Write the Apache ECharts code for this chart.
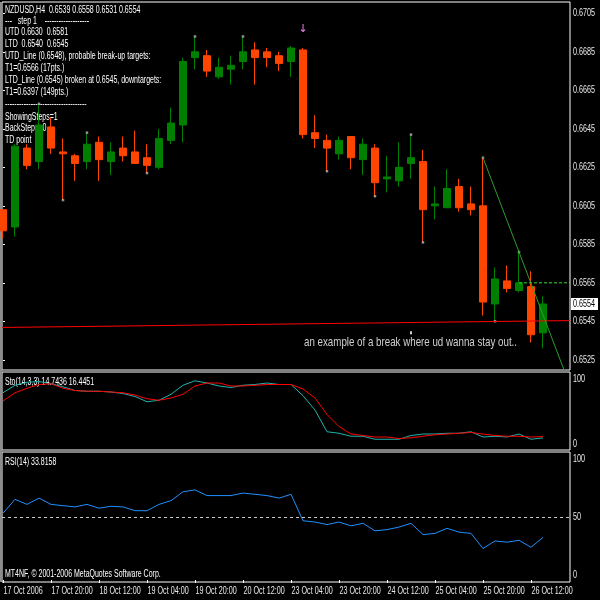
<!DOCTYPE html>
<html><head><meta charset="utf-8">
<script src="https://cdn.jsdelivr.net/npm/echarts@6/dist/echarts.min.js"></script>
<style>html,body{margin:0;padding:0;background:#000}#c{width:600px;height:600px}</style>
</head><body><div id="c"></div>
<script>
// ---- data (NZDUSD H4) ----
const timeLabels = ['17 Oct 2006','17 Oct 20:00','18 Oct 12:00','19 Oct 04:00','19 Oct 20:00','20 Oct 12:00','23 Oct 04:00','23 Oct 20:00','24 Oct 12:00','25 Oct 04:00','25 Oct 20:00','26 Oct 12:00'];
const timeLabelIdx = [0,4,8,12,16,20,24,28,32,36,40,44];
const priceTicks = [0.6525,0.6545,0.6565,0.6585,0.6605,0.6625,0.6645,0.6665,0.6685,0.6705];
const stoTicks = [0,100];
const rsiTicks = [0,50,100];
const open  = [0.6603,0.6594,0.6635,0.6628,0.6646,0.6633,0.6631,0.6628,0.6638,0.6628,0.6635,0.6633,0.6630,0.6625,0.6639,0.6647,0.6682,0.6683,0.6672,0.6676,0.6680,0.6686,0.6685,0.6683,0.6680,0.6686,0.6643,0.6639,0.6632,0.6641,0.6629,0.6635,0.6619,0.6618,0.6627,0.6628,0.6605,0.6604,0.6615,0.6606,0.6605,0.6554,0.6566,0.6561,0.6563,0.6539];
const close = [0.6592,0.6636,0.6626,0.6647,0.6635,0.6632,0.6627,0.6637,0.6629,0.6633,0.6631,0.6627,0.6626,0.6640,0.6648,0.6680,0.6685,0.6675,0.6677,0.6678,0.6685,0.6682,0.6682,0.6679,0.6687,0.6642,0.6640,0.6635,0.6639,0.6630,0.6637,0.6617,0.6620,0.6625,0.6630,0.6603,0.6606,0.6614,0.6604,0.6603,0.6555,0.6567,0.6562,0.6565,0.6538,0.6554];
const low   = [0.6588,0.6589,0.6624,0.6624,0.6632,0.6608,0.6618,0.6624,0.6618,0.6621,0.6628,0.6627,0.6622,0.6624,0.6637,0.6638,0.6676,0.6672,0.6671,0.6668,0.6676,0.6668,0.6677,0.6675,0.6672,0.6640,0.6635,0.6623,0.6629,0.6624,0.6621,0.6610,0.6612,0.6615,0.6619,0.6586,0.6598,0.6604,0.6602,0.6600,0.6548,0.6545,0.6560,0.6560,0.6534,0.6531];
const high  = [0.6603,0.6637,0.6637,0.6658,0.6651,0.6640,0.6632,0.6643,0.6641,0.6638,0.6641,0.6644,0.6637,0.6645,0.6656,0.6682,0.6693,0.6686,0.6682,0.6683,0.6693,0.6690,0.6687,0.6685,0.6688,0.6687,0.6652,0.6642,0.6641,0.6641,0.6640,0.6637,0.6631,0.6638,0.6642,0.6634,0.6615,0.6624,0.6619,0.6615,0.6630,0.6573,0.6574,0.6581,0.6571,0.6558];
const tdPoints = [[3,0.6658],[7,0.6643],[16,0.6693],[20,0.6693],[34,0.6642],[40,0.6630],[43,0.6581],[5,0.6608],[12,0.6622],[27,0.6623],[31,0.6610],[35,0.6586],[41,0.6545]];
const whitePoint = [[34,0.6539]];
const arrowPoint = [[25,0.66968]];
const utdPoints = [[40,0.6630],[43,0.6581]];
const ltdPoints = [[0,0.65418],[45,0.65452]];
const t1Target = [43,0.6565];
const stoMain   = [75,85,89,90,87,83,78,77,77,76,74,70,63,65,73,85,91,88,84,82,85,86,88,86,86,71,52,23,21,17,17,13,13,13,18,20,20,21,21,23,16,17,16,20,13,14.74];
const stoSignal = [64,75,81,86,87,81,78,77,77,76,75,72,67,65,68,73,84,88,88,84,84,85,86,86,86,80,68,46,30,20,18,16,16,14,15,17,19,20,21,22,20,18,17,17,16,16.45];
const rsi = [53,64,60,65,60,59,58,60,57,58.5,58,55,55,60,63,70,71.5,67,67,67,69,68,67,65,68,47,46,44,46,43,45,39,40,42,45,36,37,41,38,37,25,31,30,31.5,26,33.8];
const infoLines = ['NZDUSD,H4  0.6539 0.6558 0.6531 0.6554','---   step 1    -------------------','UTD 0.6630  0.6581','LTD  0.6540  0.6545','UTD_Line (0.6548), probable break-up targets:','T1=0.6566 (17pts.)','LTD_Line (0.6545) broken at 0.6545, downtargets:','T1=0.6397 (149pts.)','-----------------------------------','ShowingSteps=1','BackSteps=0','TD point'];

// ---- layout ----
const X_MIN = -1/12, X_MAX = 47.25;
const N = open.length;
const candleData = open.map((o,i)=>[i,o,close[i],low[i],high[i]]);
function extend(p, x){ const s=(p[1][1]-p[0][1])/(p[1][0]-p[0][0]); return [x, p[0][1]+s*(x-p[0][0])]; }
const ltdLine = [extend(ltdPoints,X_MIN), extend(ltdPoints,X_MAX)];
const utdLine = [utdPoints[0], extend(utdPoints,X_MAX)];
const t1Line = [t1Target, [X_MAX, t1Target[1]]];
const txtFont = '"Liberation Sans",sans-serif';
const SQ = 0.7; // horizontal squeeze of the reference's text

const hiddenX = (g)=>({type:'value', gridIndex:g, min:X_MIN, max:X_MAX, show:false, splitLine:{show:false}});
const chart = echarts.init(document.getElementById('c'), null, {renderer:'canvas'});
const infoYs = [10.7,21.3,32.7,44,56.5,68.5,80.5,92.5,104.7,117,128.7,140.3];
const txt = (x,y,t,opt={})=>({type:'text',x:x,y:y,scaleX:opt.sx||SQ,silent:true,
  style:{text:t,fill:opt.fill||'#ffffff',font:(opt.size||10)+'px '+txtFont,verticalAlign:opt.va||'middle',align:opt.align||'left'}});

chart.setOption({
  backgroundColor:'#000',
  animation:false,
  grid:[
    {left:2,right:30,top:2,height:368,show:true,borderColor:'#fff',borderWidth:1},
    {left:2,right:30,top:372,height:78,show:true,borderColor:'#fff',borderWidth:1},
    {left:2,right:30,top:452,height:130,show:true,borderColor:'#fff',borderWidth:1}
  ],
  xAxis:[hiddenX(0),hiddenX(1),{
    type:'value',gridIndex:2,min:X_MIN,max:X_MAX,splitLine:{show:false},
    axisLine:{show:false},
    axisTick:{show:true,customValues:timeLabelIdx,length:3,lineStyle:{color:'#fff'}},
    axisLabel:{show:false}
  }],
  yAxis:[
    {type:'value',gridIndex:0,position:'right',min:0.65197,max:0.67109,splitLine:{show:false},axisLine:{show:false},
     axisTick:{show:true,customValues:priceTicks,length:2,lineStyle:{color:'#fff'}},axisLabel:{show:false}},
    {type:'value',gridIndex:1,position:'right',min:-1.33,max:102.67,splitLine:{show:false},axisLine:{show:false},axisTick:{show:false},axisLabel:{show:false}},
    {type:'value',gridIndex:2,position:'right',min:-1.59,max:101.59,splitLine:{show:false},axisLine:{show:false},axisTick:{show:false},axisLabel:{show:false}}
  ],
  series:[
    {type:'line',xAxisIndex:0,yAxisIndex:0,data:ltdLine,symbol:'none',lineStyle:{color:'#ff0000',width:1},silent:true},
    {type:'candlestick',xAxisIndex:0,yAxisIndex:0,data:candleData,
     dimensions:['idx','open','close','lowest','highest'],encode:{x:'idx',y:['open','close','lowest','highest']},
     barWidth:7,
     itemStyle:{color:'#008000',color0:'#ff4500',borderColor:'#008000',borderColor0:'#ff4500',borderWidth:1}},
    {type:'line',xAxisIndex:0,yAxisIndex:0,data:utdLine,symbol:'none',lineStyle:{color:'#2f9a2f',width:1},silent:true},
    {type:'line',xAxisIndex:0,yAxisIndex:0,data:t1Line,symbol:'none',lineStyle:{color:'#33dd33',width:1,type:[3,2]},silent:true},
    {type:'scatter',xAxisIndex:0,yAxisIndex:0,data:tdPoints,symbol:'rect',symbolSize:2.5,itemStyle:{color:'#b4b4b4'},silent:true},
    {type:'scatter',xAxisIndex:0,yAxisIndex:0,data:whitePoint,symbol:'rect',symbolSize:[2,3],itemStyle:{color:'#ffffff'},silent:true},
    {type:'line',xAxisIndex:1,yAxisIndex:1,data:stoMain.map((v,i)=>[i,v]),symbol:'none',lineStyle:{color:'#20b2aa',width:1},silent:true},
    {type:'line',xAxisIndex:1,yAxisIndex:1,data:stoSignal.map((v,i)=>[i,v]),symbol:'none',lineStyle:{color:'#ff0000',width:1},silent:true},
    {type:'line',xAxisIndex:2,yAxisIndex:2,data:rsi.map((v,i)=>[i,v]),symbol:'none',lineStyle:{color:'#1e90ff',width:1},silent:true,
     markLine:{silent:true,symbol:'none',data:[{yAxis:50}],label:{show:false},lineStyle:{color:'#c8c8c8',width:1,type:[3,3]}}}
  ]
});

// ---- text placed through the axes' own scales ----
const px = (ax, v)=>chart.convertToPixel(ax, v);
const g = [
  {type:'rect',left:0,top:2,shape:{width:2,height:580},style:{fill:'#8c8c8c'},silent:true},
  {type:'group',x:5,y:0,scaleX:SQ,children:infoLines.map((t,k)=>({type:'text',x:0,y:infoYs[k],style:{text:t,fill:'#ffffff',font:'10px '+txtFont,verticalAlign:'middle',align:'left'}}))},
  txt(5,382.7,'Sto(14,3,3) 14.7436 16.4451'),
  txt(5,462.3,'RSI(14) 33.8158'),
  txt(5,574,'MT4NF, © 2001-2006 MetaQuotes Software Corp.'),
  txt(304,342.7,'an example of a break where ud wanna stay out..',{fill:'#d0d0d0',size:13,sx:0.75})
];
// price labels
priceTicks.forEach(v=>g.push(txt(573,px({yAxisIndex:0},v),v.toFixed(4),{fill:'#e8e8e8',sx:0.72})));
// current price box
const cy = px({yAxisIndex:0}, close[N-1]);
g.push({type:'rect',x:571,y:cy-6,shape:{width:27,height:12},style:{fill:'#ffffff'},silent:true});
g.push(txt(573,cy,close[N-1].toFixed(4),{fill:'#000000',sx:0.72}));
// stochastic / rsi scale labels (MT4 draws the extremes just inside the pane)
stoTicks.forEach(v=>{const y=px({yAxisIndex:1},v); g.push(txt(573,v>=100?y+5:y-5,String(v),{fill:'#e8e8e8',sx:0.72}));});
rsiTicks.forEach(v=>{const y=px({yAxisIndex:2},v); g.push(txt(573,v>=100?y+5:(v<=0?y-5:y),String(v),{fill:'#e8e8e8',sx:0.72}));});
// time labels
timeLabelIdx.forEach((v,k)=>g.push(txt(px({xAxisIndex:2},v)+0.5,591,timeLabels[k],{fill:'#e8e8e8',sx:0.72})));
// TD arrow
const ap = chart.convertToPixel({xAxisIndex:0,yAxisIndex:0}, arrowPoint[0]);
g.push({type:'text',x:ap[0],y:ap[1],silent:true,style:{text:'↓',fill:'#ee82ee',font:'11px "DejaVu Sans",sans-serif',align:'center',verticalAlign:'middle'}});
chart.setOption({graphic:g});
</script></body></html>
